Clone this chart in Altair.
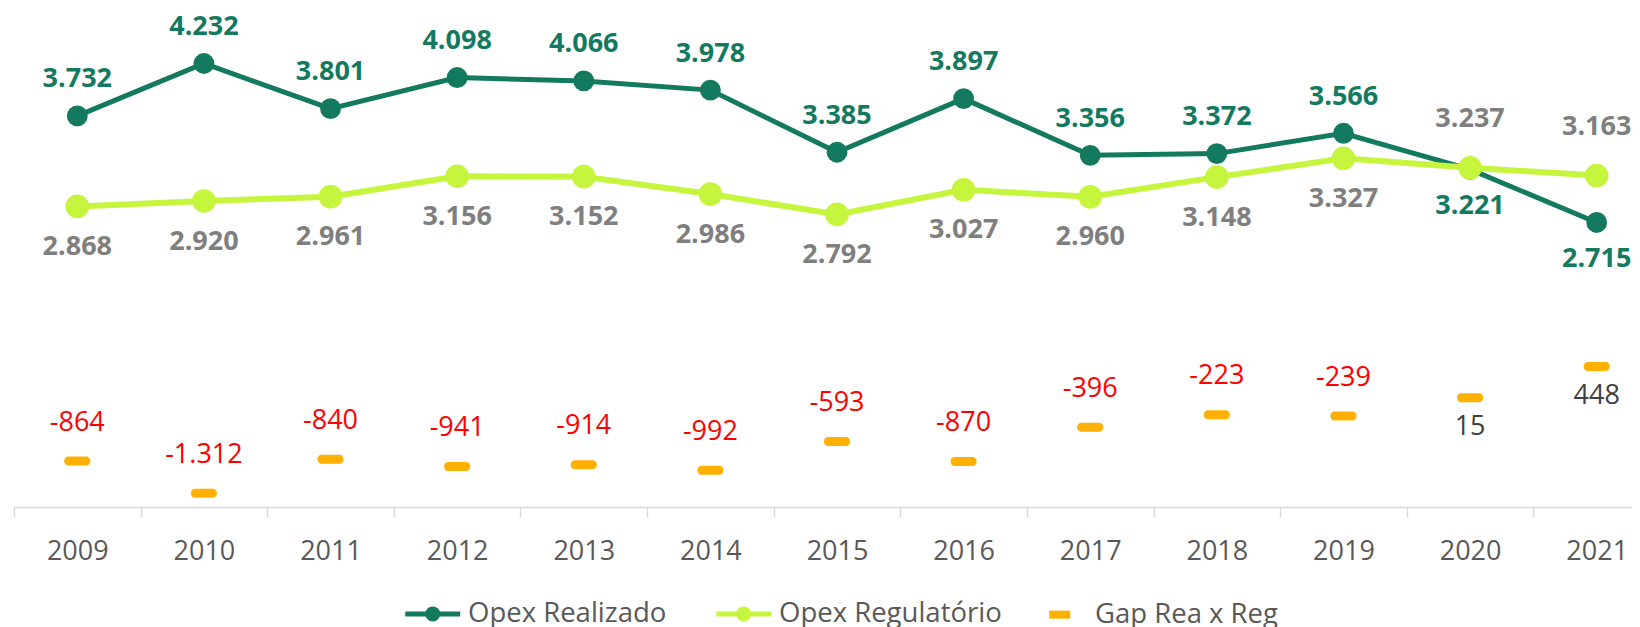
import altair as alt
import pandas as pd

# ---------------- data ----------------
years = ["2009", "2010", "2011", "2012", "2013", "2014", "2015",
         "2016", "2017", "2018", "2019", "2020", "2021"]
opex_realizado = [3732, 4232, 3801, 4098, 4066, 3978, 3385, 3897, 3356, 3372, 3566, 3221, 2715]
opex_regulatorio = [2868, 2920, 2961, 3156, 3152, 2986, 2792, 3027, 2960, 3148, 3327, 3237, 3163]
gap_rea_reg = [-864, -1312, -840, -941, -914, -992, -593, -870, -396, -223, -239, 15, 448]
pos_realizado = ["above"] * 11 + ["below"] * 2
pos_regulatorio = ["below"] * 11 + ["above"] * 2
series = ["Opex Realizado", "Opex Regulatório", "Gap Rea x Reg"]


def fmt(v):
    return f"{v:,}".replace(",", ".")


df = pd.DataFrame({
    "ano": years,
    "realizado": opex_realizado,
    "regulatorio": opex_regulatorio,
    "gap": gap_rea_reg,
    "pos_rea": pos_realizado,
    "pos_reg": pos_regulatorio,
})
df["lbl_rea"] = [fmt(v) for v in opex_realizado]
df["lbl_reg"] = [fmt(v) for v in opex_regulatorio]
df["lbl_gap"] = [fmt(v) for v in gap_rea_reg]
leg = pd.DataFrame({"serie": series})

# ---------------- styles ----------------
GREEN = "#147A5F"
LIME = "#C6F53E"
ORANGE = "#FFB000"
GRAY = "#7F7F7F"
RED = "#FF0000"
DARK = "#404040"
FONT = "Open Sans"

X = alt.X(
    "ano:N", sort=years,
    scale=alt.Scale(range=[0, 1646], paddingInner=0, paddingOuter=0),
    axis=alt.Axis(title=None, labelAngle=0, tickBand="extent", grid=False,
                  domainColor="#D9D9D9", domainWidth=1.5,
                  tickColor="#D9D9D9", tickWidth=1.5, tickSize=10,
                  labelFont=FONT, labelFontSize=27, labelColor="#595959",
                  labelPadding=42, labelBaseline="alphabetic"),
)


def YP(field):
    return alt.Y(f"{field}:Q", scale=alt.Scale(domain=[0, 4761.5], nice=False, zero=False), axis=None)


YG = alt.Y("gap:Q", scale=alt.Scale(domain=[-1501.7, 5424], nice=False, zero=False), axis=None)

base = alt.Chart(df)

line_rea = base.mark_line(color=GREEN, strokeWidth=5).encode(x=X, y=YP("realizado"))
pts_rea = base.mark_circle(color=GREEN, size=434, opacity=1).encode(x=X, y=YP("realizado"))
line_reg = base.mark_line(color=LIME, strokeWidth=6).encode(x=X, y=YP("regulatorio"))
pts_reg = base.mark_circle(color=LIME, size=560, opacity=1).encode(x=X, y=YP("regulatorio"))
gap_ticks = base.mark_tick(color=ORANGE, size=26, thickness=9, cornerRadius=4,
                           orient="horizontal", opacity=1).encode(x=X, y=YG)


def label(filter_expr, lbl, color, dy, weight, yenc):
    return base.transform_filter(filter_expr).mark_text(
        font=FONT, fontSize=27, fontWeight=weight, color=color,
        baseline="alphabetic", dy=dy
    ).encode(x=X, y=yenc, text=f"{lbl}:N")


lab_rea_up = label(alt.datum.pos_rea == "above", "lbl_rea", GREEN, -28.4, "bold", YP("realizado"))
lab_rea_dn = label(alt.datum.pos_rea == "below", "lbl_rea", GREEN, 44.6, "bold", YP("realizado"))
lab_reg_up = label(alt.datum.pos_reg == "above", "lbl_reg", GRAY, -40.4, "bold", YP("regulatorio"))
lab_reg_dn = label(alt.datum.pos_reg == "below", "lbl_reg", GRAY, 48.6, "bold", YP("regulatorio"))
lab_gap_neg = label(alt.datum.gap < 0, "lbl_gap", RED, -30.4, "normal", YG)
lab_gap_pos = label(alt.datum.gap >= 0, "lbl_gap", DARK, 37.6, "normal", YG)

# legend (symbols: line with dot, line with dot, small bar)
P_LINE = "M-2.75,0H2.75M-0.5,0A0.5,0.5 0 1,1 0.5,0A0.5,0.5 0 1,1 -0.5,0Z"
P_RECT = "M-0.8,-0.15H0.8V0.15H-0.8Z"


def legend_spec():
    return alt.Legend(title=None, orient="none", legendX=405, legendY=592,
                      direction="horizontal", symbolSize=400, symbolStrokeWidth=5,
                      labelFont=FONT, labelFontSize=27.5, labelColor="#595959",
                      labelOffset=21.5, labelLimit=0, columnPadding=39, padding=0)


leg_layer = alt.Chart(leg).mark_point(filled=True, size=400, strokeWidth=5, clip=True, opacity=1).encode(
    x=alt.value(-500), y=alt.value(-500),
    fill=alt.Fill("serie:N", sort=series, scale=alt.Scale(domain=series, range=[GREEN, LIME, ORANGE]),
                  legend=legend_spec()),
    stroke=alt.Stroke("serie:N", sort=series, scale=alt.Scale(domain=series, range=[GREEN, LIME, ORANGE]),
                      legend=legend_spec()),
    shape=alt.Shape("serie:N", sort=series, scale=alt.Scale(domain=series, range=[P_LINE, P_LINE, P_RECT]),
                    legend=legend_spec()),
)

chart = alt.layer(
    line_rea, pts_rea, line_reg, pts_reg, gap_ticks,
    lab_rea_up, lab_rea_dn, lab_reg_up, lab_reg_dn, lab_gap_neg, lab_gap_pos,
    leg_layer,
).resolve_scale(y="independent").properties(
    width=1618, height=499,
    padding={"left": 6, "top": 0, "right": 0, "bottom": 125},
    autosize=alt.AutoSizeParams(type="none"),
).configure_view(stroke=None)

chart.save("out.html", embed_options={"renderer": "svg", "actions": False})
